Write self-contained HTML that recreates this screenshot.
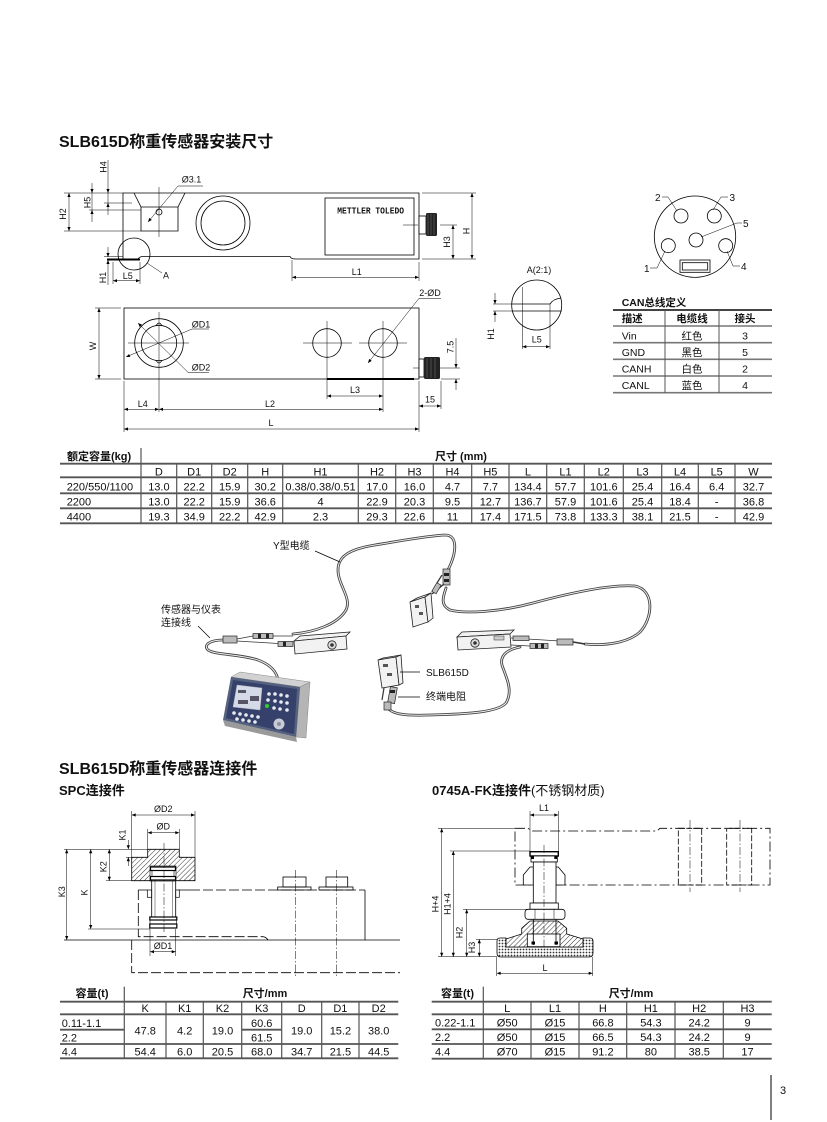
<!DOCTYPE html>
<html><head><meta charset="utf-8">
<style>
html,body{margin:0;padding:0;background:#fff;}
svg{display:block}
text{font-family:"Liberation Sans","Noto Sans CJK SC",sans-serif;fill:#111}
.d{font-size:9px}
.b{font-weight:bold}
.tb{font-size:11px}
.ln{stroke:#000;fill:none;stroke-width:0.8}
.th{stroke:#000;fill:none;stroke-width:0.5}
.cl{stroke:#000;fill:none;stroke-width:0.5;stroke-dasharray:8 2 1.5 2}
.hd{stroke:#000;fill:none;stroke-width:0.8;stroke-dasharray:10 3}
.tl{stroke:#555;stroke-width:1.8}
.tv{stroke:#555;stroke-width:1.2}
.cbo{stroke:#444;stroke-width:2.8;fill:none;stroke-linecap:round}
.cbi{stroke:#eee;stroke-width:1;fill:none;stroke-linecap:round}
.cell{fill:#f2f2f2;stroke:#222;stroke-width:0.8}
.plug{fill:#bbb;stroke:#222;stroke-width:0.7}
</style></head><body>
<svg width="827" height="1122" viewBox="0 0 827 1122" xmlns="http://www.w3.org/2000/svg">
<defs>
<marker id="ar" viewBox="0 0 10 10" refX="10" refY="5" markerUnits="userSpaceOnUse" markerWidth="5" markerHeight="4" orient="auto-start-reverse"><path d="M0,1 L10,5 L0,9z" fill="#000"/></marker>
<pattern id="hatch" width="3.5" height="3.5" patternUnits="userSpaceOnUse" patternTransform="rotate(45)"><rect width="3.5" height="3.5" fill="#fff"/><line x1="0" y1="0" x2="0" y2="3.5" stroke="#000" stroke-width="0.8"/></pattern>
<pattern id="dots" width="3" height="3" patternUnits="userSpaceOnUse"><rect width="3" height="3" fill="#fff"/><circle cx="1.5" cy="1.5" r="0.9" fill="#333"/></pattern>
</defs>
<rect width="827" height="1122" fill="#fff"/>

<!-- ===== Title 1 ===== -->
<text x="59" y="147" font-size="16" class="b">SLB615D称重传感器安装尺寸</text>

<!-- ===== Top view ===== -->
<g class="ln">
<path d="M123,193 H419 V259 H296 Q291,259 290,256.5 H142 Q139,257 138,259 H123 Z"/>
<path d="M134,193 L141,207 V231 H178 V207 L185,193"/>
<line x1="141" y1="207" x2="178" y2="207"/>
<circle cx="223" cy="223" r="27"/>
<circle cx="223" cy="223" r="22"/>
<rect x="325" y="198" width="89" height="57"/>
<circle cx="134" cy="254" r="16"/>
<circle cx="159" cy="212" r="3"/>
</g>
<line x1="107" y1="259.5" x2="140" y2="259.5" stroke="#000" stroke-width="2"/>
<text x="337.3" y="213.3" font-family="Liberation Mono" font-size="9" font-weight="bold" textLength="66.7" lengthAdjust="spacingAndGlyphs" style="font-family:'Liberation Mono',monospace">METTLER TOLEDO</text>
<line class="th" x1="159" y1="187" x2="159" y2="237"/>
<line class="th" x1="403" y1="225" x2="418" y2="225"/>
<rect x="419" y="216" width="7" height="18" fill="#fff" stroke="#000" stroke-width="0.8"/>
<rect x="426" y="213" width="11" height="23" rx="1.5" fill="#222"/>
<g stroke="#777" stroke-width="0.5"><line x1="428" y1="214" x2="428" y2="235"/><line x1="431" y1="214" x2="431" y2="235"/><line x1="434" y1="214" x2="434" y2="235"/></g>
<!-- leader Ø3.1 -->
<polyline class="th" points="148,222 178,186 203,186" marker-start="url(#ar)"/>
<text class="d" x="181.7" y="182.5">Ø3.1</text>
<!-- dims top view -->
<g class="th">
<line x1="64" y1="193" x2="123" y2="193"/>
<line x1="64" y1="231" x2="141" y2="231"/>
<line x1="69" y1="193" x2="69" y2="231" marker-start="url(#ar)" marker-end="url(#ar)"/>
<line x1="104" y1="203" x2="132" y2="203"/>
<line x1="89" y1="210" x2="141" y2="210"/>
<line x1="92" y1="183" x2="92" y2="193" marker-end="url(#ar)"/>
<line x1="92" y1="193" x2="92" y2="210"/>
<line x1="92" y1="222" x2="92" y2="210" marker-end="url(#ar)"/>
<line x1="108" y1="160" x2="108" y2="193" marker-end="url(#ar)"/>
<line x1="108" y1="193" x2="108" y2="203"/>
<line x1="108" y1="215" x2="108" y2="203" marker-end="url(#ar)"/>
<line x1="108" y1="247" x2="108" y2="257" marker-end="url(#ar)"/>
<line x1="108" y1="285" x2="108" y2="260" marker-end="url(#ar)"/>
<line x1="104" y1="256.5" x2="123" y2="256.5"/>
<line x1="113" y1="262" x2="113" y2="284"/>
<line x1="140" y1="262" x2="140" y2="284"/>
<line x1="113" y1="280.7" x2="140" y2="280.7" marker-start="url(#ar)" marker-end="url(#ar)"/>
<line x1="147" y1="263" x2="162" y2="273"/>
<line x1="422" y1="193" x2="476" y2="193"/>
<line x1="422" y1="259" x2="476" y2="259"/>
<line x1="472" y1="193" x2="472" y2="259" marker-start="url(#ar)" marker-end="url(#ar)"/>
<line x1="440" y1="225" x2="457" y2="225"/>
<line x1="453" y1="225" x2="453" y2="259" marker-start="url(#ar)" marker-end="url(#ar)"/>
<line x1="292" y1="260" x2="292" y2="281"/>
<line x1="419" y1="262" x2="419" y2="281"/>
<line x1="292" y1="277.3" x2="419" y2="277.3" marker-start="url(#ar)" marker-end="url(#ar)"/>
</g>
<g class="d" text-anchor="middle">
<text transform="translate(106.7,167) rotate(-90)">H4</text>
<text transform="translate(90.7,202.5) rotate(-90)">H5</text>
<text transform="translate(66,214) rotate(-90)">H2</text>
<text transform="translate(106,277.5) rotate(-90)">H1</text>
<text transform="translate(450,242) rotate(-90)">H3</text>
<text transform="translate(469.3,231) rotate(-90)">H</text>
<text x="127.7" y="279">L5</text>
<text x="166" y="278.7">A</text>
<text x="356.7" y="275">L1</text>
</g>

<!-- ===== Plan view ===== -->
<rect class="ln" x="124" y="308" width="295" height="71"/>
<line x1="327" y1="379" x2="414" y2="379" stroke="#000" stroke-width="2"/>
<g class="ln">
<circle cx="159" cy="343" r="24.3"/>
<circle cx="159" cy="343" r="17.7"/>
<path d="M156,326 Q159,320 162,326"/>
<path d="M156,360 Q159,366 162,360"/>
<circle cx="327" cy="343" r="14.3"/>
<circle cx="383" cy="343" r="14.3"/>
</g>
<g class="th">
<line x1="128" y1="343" x2="189" y2="343"/>
<line x1="159" y1="312" x2="159" y2="412"/>
<line x1="303" y1="343" x2="352" y2="343"/>
<line x1="359" y1="343" x2="407" y2="343"/>
<line x1="327" y1="321" x2="327" y2="399"/>
<line x1="383" y1="321" x2="383" y2="412"/>
<polyline points="126,357 192,329 209,329" marker-start="url(#ar)"/>
<polyline points="138,323 188,372.3 209,372.3" marker-start="url(#ar)"/>
<polyline points="368,363 419,298.3 441,298.3" marker-start="url(#ar)"/>
<line x1="95" y1="308" x2="121" y2="308"/>
<line x1="95" y1="379" x2="121" y2="379"/>
<line x1="99" y1="308" x2="99" y2="379" marker-start="url(#ar)" marker-end="url(#ar)"/>
<line x1="413" y1="368" x2="460" y2="368"/>
<line x1="441" y1="379" x2="460" y2="379"/>
<line x1="456" y1="338" x2="456" y2="368" marker-end="url(#ar)"/>
<line x1="456" y1="390" x2="456" y2="379" marker-end="url(#ar)"/>
<line x1="327" y1="396" x2="383" y2="396" marker-start="url(#ar)" marker-end="url(#ar)"/>
<line x1="441" y1="381" x2="441" y2="409"/>
<line x1="419" y1="406" x2="441" y2="406" marker-start="url(#ar)" marker-end="url(#ar)"/>
<line x1="124" y1="409.3" x2="159" y2="409.3" marker-start="url(#ar)" marker-end="url(#ar)"/>
<line x1="159" y1="409.3" x2="383" y2="409.3" marker-start="url(#ar)" marker-end="url(#ar)"/>
<line x1="124" y1="381" x2="124" y2="432"/>
<line x1="419" y1="381" x2="419" y2="432"/>
<line x1="124" y1="429" x2="419" y2="429" marker-start="url(#ar)" marker-end="url(#ar)"/>
</g>
<rect x="419" y="359" width="5" height="18" fill="#fff" stroke="#000" stroke-width="0.8"/>
<rect x="424" y="357" width="16" height="22" rx="1.5" fill="#222"/>
<g stroke="#777" stroke-width="0.5"><line x1="427" y1="358" x2="427" y2="378"/><line x1="431" y1="358" x2="431" y2="378"/><line x1="435" y1="358" x2="435" y2="378"/></g>
<g class="d">
<text x="191.7" y="327.5">ØD1</text>
<text x="191.7" y="370.7">ØD2</text>
<text x="419.3" y="296">2-ØD</text>
</g>
<g class="d" text-anchor="middle">
<text transform="translate(96,346) rotate(-90)">W</text>
<text transform="translate(453.3,347) rotate(-90)">7.5</text>
<text x="355" y="393">L3</text>
<text x="430" y="402.5">15</text>
<text x="142.8" y="407">L4</text>
<text x="270" y="407">L2</text>
<text x="271" y="426">L</text>
</g>

<!-- ===== Detail A(2:1) ===== -->
<circle class="ln" cx="536.7" cy="305" r="25"/>
<g class="ln">
<line x1="511.7" y1="304" x2="550" y2="304"/>
<line x1="511.7" y1="311" x2="561.7" y2="311"/>
<path d="M550,304 Q553,299 561,298"/>
</g>
<g class="th">
<line x1="522.3" y1="287" x2="522.3" y2="349"/>
<line x1="550" y1="304" x2="550" y2="349"/>
<line x1="493" y1="304" x2="511.7" y2="304"/>
<line x1="493" y1="311" x2="511.7" y2="311"/>
<line x1="495" y1="293" x2="495" y2="304" marker-end="url(#ar)"/>
<line x1="495" y1="322" x2="495" y2="311" marker-end="url(#ar)"/>
<line x1="522.3" y1="346.7" x2="550" y2="346.7" marker-start="url(#ar)" marker-end="url(#ar)"/>
</g>
<g class="d" text-anchor="middle">
<text x="539" y="273">A(2:1)</text>
<text transform="translate(494,334) rotate(-90)">H1</text>
<text x="536.7" y="342.5">L5</text>
</g>

<!-- ===== Connector face ===== -->
<g class="ln">
<circle cx="695" cy="236.7" r="40.7"/>
<circle cx="681" cy="216" r="7"/>
<circle cx="714.3" cy="216" r="7"/>
<circle cx="696" cy="240" r="7"/>
<circle cx="668.3" cy="245.7" r="7"/>
<circle cx="725.7" cy="245.7" r="7"/>
<rect x="680" y="260" width="30" height="12.3"/>
<rect x="682.3" y="262.7" width="25.4" height="7.3"/>
</g>
<g class="th" stroke-width="0.7">
<polyline points="662,197 668,197 677,211"/>
<polyline points="728,197 721,197 713,210"/>
<polyline points="742,223 737,223 701,237"/>
<polyline points="650,268 657,268 665,251"/>
<polyline points="740,266 733,266 727,251"/>
</g>
<g font-size="10">
<text x="655" y="201">2</text>
<text x="729.5" y="201">3</text>
<text x="743" y="227">5</text>
<text x="644" y="272">1</text>
<text x="741" y="270">4</text>
</g>

<!-- ===== CAN table ===== -->
<text x="621.7" y="306" font-size="10.5" class="b">CAN总线定义</text>
<line x1="613" y1="310" x2="772" y2="310" stroke="#444" stroke-width="2"/>
<g stroke="#777" stroke-width="1.6">
<line x1="613" y1="326" x2="772" y2="326"/>
<line x1="613" y1="342.7" x2="772" y2="342.7"/>
<line x1="613" y1="359.3" x2="772" y2="359.3"/>
<line x1="613" y1="376" x2="772" y2="376"/>
<line x1="613" y1="392.7" x2="772" y2="392.7"/>
</g>
<g stroke="#555" stroke-width="1">
<line x1="665" y1="310" x2="665" y2="392.7"/>
<line x1="719" y1="310" x2="719" y2="392.7"/>
</g>
<g font-size="10.5">
<text x="621.7" y="322" class="b">描述</text>
<text x="692" y="322" class="b" text-anchor="middle">电缆线</text>
<text x="745" y="322" class="b" text-anchor="middle">接头</text>
<text x="621.7" y="339.5">Vin</text><text x="692" y="339.5" text-anchor="middle">红色</text><text x="745" y="339.5" text-anchor="middle">3</text>
<text x="621.7" y="356">GND</text><text x="692" y="356" text-anchor="middle">黑色</text><text x="745" y="356" text-anchor="middle">5</text>
<text x="621.7" y="372.5">CANH</text><text x="692" y="372.5" text-anchor="middle">白色</text><text x="745" y="372.5" text-anchor="middle">2</text>
<text x="621.7" y="389">CANL</text><text x="692" y="389" text-anchor="middle">蓝色</text><text x="745" y="389" text-anchor="middle">4</text>
</g>

<!-- ===== Main table ===== -->
<text x="67" y="460" class="tb b">额定容量(kg)</text>
<text x="435" y="460" class="tb b">尺寸 (mm)</text>
<line class="tv" x1="141" y1="448" x2="141" y2="463.7"/>
<g class="tl">
<line x1="60" y1="463.7" x2="772" y2="463.7"/>
<line x1="60" y1="477.3" x2="772" y2="477.3"/>
<line x1="60" y1="493.3" x2="772" y2="493.3"/>
<line x1="60" y1="508.3" x2="772" y2="508.3"/>
<line x1="60" y1="523.3" x2="772" y2="523.3"/>
</g>
<g class="tv">
<line x1="141" y1="463.7" x2="141" y2="523.3"/>
<line x1="176.7" y1="463.7" x2="176.7" y2="523.3"/>
<line x1="211.7" y1="463.7" x2="211.7" y2="523.3"/>
<line x1="247.7" y1="463.7" x2="247.7" y2="523.3"/>
<line x1="282.7" y1="463.7" x2="282.7" y2="523.3"/>
<line x1="358.3" y1="463.7" x2="358.3" y2="523.3"/>
<line x1="395.7" y1="463.7" x2="395.7" y2="523.3"/>
<line x1="433.3" y1="463.7" x2="433.3" y2="523.3"/>
<line x1="471.7" y1="463.7" x2="471.7" y2="523.3"/>
<line x1="509" y1="463.7" x2="509" y2="523.3"/>
<line x1="546.7" y1="463.7" x2="546.7" y2="523.3"/>
<line x1="584.3" y1="463.7" x2="584.3" y2="523.3"/>
<line x1="623.3" y1="463.7" x2="623.3" y2="523.3"/>
<line x1="661.7" y1="463.7" x2="661.7" y2="523.3"/>
<line x1="698.3" y1="463.7" x2="698.3" y2="523.3"/>
<line x1="735" y1="463.7" x2="735" y2="523.3"/>
</g>
<g class="tb" text-anchor="middle">
<text y="475.5"><tspan x="158.9">D</tspan><tspan x="194.2">D1</tspan><tspan x="229.7">D2</tspan><tspan x="265.2">H</tspan><tspan x="320.5">H1</tspan><tspan x="377">H2</tspan><tspan x="414.5">H3</tspan><tspan x="452.5">H4</tspan><tspan x="490.4">H5</tspan><tspan x="527.9">L</tspan><tspan x="565.5">L1</tspan><tspan x="603.8">L2</tspan><tspan x="642.5">L3</tspan><tspan x="680">L4</tspan><tspan x="716.7">L5</tspan><tspan x="753.5">W</tspan></text>
<text y="490.5"><tspan x="158.9">13.0</tspan><tspan x="194.2">22.2</tspan><tspan x="229.7">15.9</tspan><tspan x="265.2">30.2</tspan><tspan x="320.5">0.38/0.38/0.51</tspan><tspan x="377">17.0</tspan><tspan x="414.5">16.0</tspan><tspan x="452.5">4.7</tspan><tspan x="490.4">7.7</tspan><tspan x="527.9">134.4</tspan><tspan x="565.5">57.7</tspan><tspan x="603.8">101.6</tspan><tspan x="642.5">25.4</tspan><tspan x="680">16.4</tspan><tspan x="716.7">6.4</tspan><tspan x="753.5">32.7</tspan></text>
<text y="505.5"><tspan x="158.9">13.0</tspan><tspan x="194.2">22.2</tspan><tspan x="229.7">15.9</tspan><tspan x="265.2">36.6</tspan><tspan x="320.5">4</tspan><tspan x="377">22.9</tspan><tspan x="414.5">20.3</tspan><tspan x="452.5">9.5</tspan><tspan x="490.4">12.7</tspan><tspan x="527.9">136.7</tspan><tspan x="565.5">57.9</tspan><tspan x="603.8">101.6</tspan><tspan x="642.5">25.4</tspan><tspan x="680">18.4</tspan><tspan x="716.7">-</tspan><tspan x="753.5">36.8</tspan></text>
<text y="520.5"><tspan x="158.9">19.3</tspan><tspan x="194.2">34.9</tspan><tspan x="229.7">22.2</tspan><tspan x="265.2">42.9</tspan><tspan x="320.5">2.3</tspan><tspan x="377">29.3</tspan><tspan x="414.5">22.6</tspan><tspan x="452.5">11</tspan><tspan x="490.4">17.4</tspan><tspan x="527.9">171.5</tspan><tspan x="565.5">73.8</tspan><tspan x="603.8">133.3</tspan><tspan x="642.5">38.1</tspan><tspan x="680">21.5</tspan><tspan x="716.7">-</tspan><tspan x="753.5">42.9</tspan></text>
</g>
<g class="tb">
<text x="66.7" y="490.5">220/550/1100</text>
<text x="66.7" y="505.5">2200</text>
<text x="66.7" y="520.5">4400</text>
</g>

<!-- ===== Wiring photo ===== -->
<!-- cables -->
<g>
<path class="cbo" d="M293,634 C315,632 338,624 346,610 C352,598 338,585 338,570 C338,556 350,549 375,545 C400,541 425,536 445,535 C458,535 457,552 448,570"/>
<path class="cbi" d="M293,634 C315,632 338,624 346,610 C352,598 338,585 338,570 C338,556 350,549 375,545 C400,541 425,536 445,535 C458,535 457,552 448,570"/>
<path class="cbo" d="M446,588 C443,597 440,605 450,610 C465,614 500,612 533,603 C570,593 610,584 635,586 C655,590 653,618 640,632 C628,643 605,646 585,644"/>
<path class="cbi" d="M446,588 C443,597 440,605 450,610 C465,614 500,612 533,603 C570,593 610,584 635,586 C655,590 653,618 640,632 C628,643 605,646 585,644"/>
<path class="cbo" d="M223,640 C210,640 203,645 208,650 C215,655 240,654 258,660 C274,666 279,675 279,688"/>
<path class="cbi" d="M223,640 C210,640 203,645 208,650 C215,655 240,654 258,660 C274,666 279,675 279,688"/>
<path class="cbo" d="M520,647 C505,650 500,657 502,665 C505,675 514,690 506,703 C498,712 470,714 430,715 C405,716 392,714 388,708"/>
<path class="cbi" d="M520,647 C505,650 500,657 502,665 C505,675 514,690 506,703 C498,712 470,714 430,715 C405,716 392,714 388,708"/>
</g>
<!-- left connectors -->
<g stroke="#333" stroke-width="0.8">
<line x1="237" y1="639" x2="253" y2="636"/>
<line x1="237" y1="641" x2="278" y2="643.5"/>
<line x1="273" y1="636" x2="293" y2="636"/>
</g>
<rect x="223" y="636" width="14" height="7" class="plug" fill="#ddd"/>
<rect x="253" y="633.5" width="20" height="5" class="plug"/>
<rect x="258" y="633.5" width="3" height="5" fill="#222"/>
<rect x="266" y="633.5" width="3" height="5" fill="#222"/>
<rect x="278" y="641.5" width="15" height="5" class="plug"/>
<rect x="283" y="641.5" width="3" height="5" fill="#222"/>
<!-- left load cell -->
<polygon class="cell" points="294,641 300,636 350,632 346,636"/>
<polygon class="cell" points="294,641 346,636 347,649 295,654" fill="#fafafa"/>
<circle cx="332" cy="645" r="4.2" fill="#ddd" stroke="#222" stroke-width="0.8"/>
<circle cx="332" cy="645" r="1.8" fill="#333"/>
<!-- Y junction and small cell -->
<rect x="443" y="569" width="7" height="16" class="plug" fill="#999"/>
<rect x="444" y="573" width="5" height="3" fill="#222"/>
<rect x="444" y="579" width="5" height="3" fill="#222"/>
<line x1="444" y1="584" x2="432" y2="594" stroke="#333" stroke-width="1.2"/>
<line x1="442" y1="575" x2="437" y2="583" stroke="#333" stroke-width="1.2"/>
<rect x="434" y="583" width="5" height="10" class="plug" transform="rotate(30 436 588)"/>
<polygon class="cell" points="410,602 425,597 431,593 417,598"/>
<polygon class="cell" points="410,602 425,597 428,622 413,627" fill="#fafafa"/>
<polygon class="cell" points="425,597 431,593 433,618 428,622" fill="#ddd"/>
<rect x="415" y="605" width="4" height="3" fill="#555"/>
<rect x="419" y="612" width="4" height="3" fill="#555"/>
<!-- right load cell -->
<polygon class="cell" points="457,637 462,632 514,630 510,634"/>
<polygon class="cell" points="457,637 510,634 511,647 458,650" fill="#fafafa"/>
<circle cx="475" cy="643" r="4.2" fill="#ddd" stroke="#222" stroke-width="0.8"/>
<circle cx="475" cy="643" r="1.8" fill="#333"/>
<rect x="494" y="636" width="10" height="4" fill="#ccc" stroke="#333" stroke-width="0.5"/>
<g stroke="#333" stroke-width="0.8">
<line x1="511" y1="638" x2="560" y2="641"/>
<line x1="511" y1="645" x2="530" y2="646"/>
</g>
<rect x="513" y="636" width="16" height="4.5" class="plug"/>
<rect x="530" y="643.5" width="18" height="5" class="plug"/>
<rect x="535" y="643.5" width="3" height="5" fill="#222"/>
<rect x="541" y="643.5" width="3" height="5" fill="#222"/>
<rect x="557" y="639" width="16" height="6" class="plug" fill="#ddd"/>
<line x1="573" y1="642" x2="585" y2="644" stroke="#333" stroke-width="1.5"/>
<!-- SLB615D cell + terminator -->
<polygon class="cell" points="378,660 396,657 401,655 383,658"/>
<polygon class="cell" points="378,660 396,657 399,685 382,688" fill="#fafafa"/>
<polygon class="cell" points="396,657 401,655 403,683 399,685" fill="#ddd"/>
<rect x="383" y="664" width="5" height="3" fill="#555"/>
<rect x="387" y="673" width="5" height="3" fill="#555"/>
<rect x="389" y="687" width="7" height="16" class="plug" transform="rotate(10 392 695)"/>
<rect x="390" y="690" width="5" height="3" fill="#222"/>
<rect x="384" y="702" width="7" height="8" class="plug" fill="#ddd"/>
<line x1="384" y1="688" x2="382" y2="700" stroke="#333" stroke-width="1.2"/>
<!-- indicator -->
<polygon points="231,677 240,672 310,682 300,687" fill="#d2d2d2" stroke="#888" stroke-width="0.5"/>
<polygon points="300,687 310,682 306,738 296,737" fill="#b5b5b5" stroke="#888" stroke-width="0.5"/>
<polygon points="223,720 296,737 297,742 225,726" fill="#9a9a9a"/>
<polygon points="231,677 300,687 296,737 223,720" fill="#55617f"/>
<polygon points="233,680 297,689 294,734 226,718" fill="#35416a"/>
<polygon points="237,685 262,688 260,710 233,707" fill="#d5dbe6" stroke="#aab" stroke-width="0.5"/>
<g fill="#556">
<rect x="238" y="690" width="8" height="3"/>
<rect x="250" y="696" width="9" height="5"/>
<rect x="238" y="700" width="10" height="4"/>
</g>
<g fill="#e8ecf2">
<circle cx="269" cy="694" r="1.8"/><circle cx="275" cy="694" r="1.8"/><circle cx="281" cy="695" r="1.8"/><circle cx="287" cy="696" r="1.8"/>
<circle cx="268" cy="700" r="1.8"/><circle cx="275" cy="701" r="1.8"/><circle cx="281" cy="702" r="1.8"/><circle cx="287" cy="703" r="1.8"/>
<circle cx="274" cy="708" r="1.8"/><circle cx="280" cy="709" r="1.8"/><circle cx="287" cy="710" r="1.8"/>
<circle cx="234" cy="713" r="1.8"/><circle cx="240" cy="714" r="1.8"/><circle cx="246" cy="715" r="1.8"/><circle cx="252" cy="716" r="1.8"/><circle cx="258" cy="717" r="1.8"/>
<circle cx="237" cy="719" r="1.8"/><circle cx="243" cy="720" r="1.8"/><circle cx="249" cy="721" r="1.8"/><circle cx="255" cy="722" r="1.8"/>
</g>
<circle cx="267" cy="706" r="2" fill="#3c3"/>
<circle cx="279" cy="724" r="5.5" fill="#c8ccd6"/>
<circle cx="279" cy="724" r="2" fill="#8a90a0"/>
<!-- photo labels -->
<g font-size="10">
<text x="273" y="549">Y型电缆</text>
<text x="161" y="613">传感器与仪表</text>
<text x="161" y="626">连接线</text>
<text x="426" y="676">SLB615D</text>
<text x="426" y="700">终端电阻</text>
</g>
<g stroke="#000" stroke-width="0.7">
<line x1="315" y1="551" x2="340" y2="562"/>
<line x1="198" y1="626" x2="210" y2="638"/>
<line x1="400" y1="672" x2="420" y2="672"/>
<line x1="398" y1="697" x2="420" y2="697"/>
</g>

<!-- ===== Title 2 ===== -->
<text x="59" y="774" font-size="16" class="b">SLB615D称重传感器连接件</text>
<text x="59" y="795" font-size="13" class="b">SPC连接件</text>
<text x="432" y="795" font-size="13"><tspan font-weight="bold">0745A-FK连接件</tspan>(不锈钢材质)</text>

<!-- ===== SPC drawing ===== -->
<path d="M147.7,849.3 H179.3 V857.3 H195 V880.7 H131.7 V857.3 H147.7 Z" fill="url(#hatch)" stroke="#000" stroke-width="0.8"/>
<rect x="150" y="866" width="26" height="15" fill="#fff" stroke="#000" stroke-width="0.6"/>
<g fill="none" stroke="#000">
<rect x="150.5" y="867" width="25" height="3.5" stroke-width="1.2"/>
<rect x="150.5" y="876.5" width="25" height="3.5" stroke-width="1.2"/>
<line x1="152" y1="870.5" x2="152" y2="876.5" stroke-width="0.6"/>
<line x1="174" y1="870.5" x2="174" y2="876.5" stroke-width="0.6"/>
<path d="M151.7,880 V917 M175.7,880 V917" stroke-width="0.8"/>
<path d="M155,880 V917 M172.3,880 V917" stroke-width="0.4"/>
<rect x="147.3" y="890" width="4.4" height="7.3" stroke-width="0.7"/>
<rect x="175.7" y="890" width="3.6" height="7.3" stroke-width="0.7"/>
<rect x="149.8" y="917" width="27" height="3" stroke-width="1.2"/>
<rect x="149.8" y="924" width="27" height="4" stroke-width="1.2"/>
<line x1="150" y1="920" x2="150" y2="924" stroke-width="0.6"/>
<line x1="176.5" y1="920" x2="176.5" y2="924" stroke-width="0.6"/>
</g>
<line class="cl" x1="164" y1="843" x2="164" y2="933"/>
<!-- load cell hidden -->
<path class="ln" d="M138.3,890 H147.3 M178.3,890 H190"/>
<path class="hd" d="M190,890 H365"/>
<path class="ln" d="M365,890 V940"/>
<path class="hd" d="M138.3,890 V936.7 H263 Q266,937 268,940"/>
<line class="ln" x1="64" y1="940" x2="400" y2="940"/>
<path class="hd" d="M131.7,940 V972.7 H400"/>
<!-- bolt heads -->
<g class="ln" fill="#fff">
<rect x="283" y="877" width="23" height="10"/>
<rect x="277.7" y="887" width="33.3" height="3"/>
<rect x="326" y="877" width="21.7" height="10"/>
<rect x="319" y="887" width="34" height="3"/>
</g>
<line class="cl" x1="295.7" y1="870" x2="295.7" y2="977"/>
<line class="cl" x1="336.7" y1="870" x2="336.7" y2="977"/>
<!-- SPC dims -->
<g class="th">
<line x1="131.7" y1="811" x2="131.7" y2="857"/>
<line x1="195" y1="811" x2="195" y2="857"/>
<line x1="131.7" y1="815" x2="195" y2="815" marker-start="url(#ar)" marker-end="url(#ar)"/>
<line x1="147.7" y1="829" x2="147.7" y2="849"/>
<line x1="179.3" y1="829" x2="179.3" y2="849"/>
<line x1="147.7" y1="832.7" x2="179.3" y2="832.7" marker-start="url(#ar)" marker-end="url(#ar)"/>
<line x1="64" y1="849.3" x2="147.7" y2="849.3"/>
<line x1="106" y1="880.7" x2="131.7" y2="880.7"/>
<line x1="88" y1="929" x2="150" y2="929"/>
<line x1="126" y1="857.3" x2="131.7" y2="857.3"/>
<line x1="128.3" y1="840" x2="128.3" y2="849.3" marker-end="url(#ar)"/>
<line x1="128.3" y1="866" x2="128.3" y2="857.3" marker-end="url(#ar)"/>
<line x1="109.3" y1="849.3" x2="109.3" y2="880.7" marker-start="url(#ar)" marker-end="url(#ar)"/>
<line x1="90.7" y1="849.3" x2="90.7" y2="929" marker-start="url(#ar)" marker-end="url(#ar)"/>
<line x1="66.7" y1="849.3" x2="66.7" y2="940" marker-start="url(#ar)" marker-end="url(#ar)"/>
<line x1="150" y1="929" x2="150" y2="956"/>
<line x1="175.7" y1="929" x2="175.7" y2="956"/>
<line x1="150" y1="951.7" x2="175.7" y2="951.7" marker-start="url(#ar)" marker-end="url(#ar)"/>
</g>
<g class="d" text-anchor="middle">
<text x="163.3" y="812">ØD2</text>
<text x="163.3" y="829.5">ØD</text>
<text x="163" y="949">ØD1</text>
<text transform="translate(125.7,835) rotate(-90)">K1</text>
<text transform="translate(106.7,866.7) rotate(-90)">K2</text>
<text transform="translate(87.3,892.5) rotate(-90)">K</text>
<text transform="translate(65,891.7) rotate(-90)">K3</text>
</g>

<!-- ===== 0745A drawing ===== -->
<path d="M515,828.3 H528 L532,831 H657 L660,828.3 H770 V885 H515 Z" fill="none" stroke="#000" stroke-width="0.8" stroke-dasharray="10 3 2 3"/>
<g fill="none" stroke="#000" stroke-width="0.8" stroke-dasharray="6 2">
<rect x="678.3" y="828.3" width="23.4" height="56.7"/>
<rect x="726.7" y="828.3" width="25" height="56.7"/>
</g>
<line class="cl" x1="690" y1="820" x2="690" y2="892"/>
<line class="cl" x1="740" y1="820" x2="740" y2="892"/>
<!-- bolt parts -->
<g fill="#fff" stroke="#000" stroke-width="0.8">
<rect x="530" y="851.7" width="28.3" height="4.3" stroke-width="1.4"/>
<rect x="531" y="856" width="26.3" height="6"/>
<polygon points="523.3,875 530,867 533.3,867 533.3,885 523.3,885"/>
<polygon points="565,875 558.3,867 556,867 556,885 565,885"/>
<rect x="533.3" y="862" width="22.7" height="41"/>
<rect x="530" y="903" width="28.3" height="6.3"/>
<rect x="525" y="909.3" width="40" height="10" rx="3"/>
</g>
<g fill="#000">
<rect x="531" y="856" width="3" height="3"/><rect x="554.3" y="856" width="3" height="3"/>
</g>
<line class="th" x1="535" y1="909.3" x2="535" y2="919.3"/>
<line class="th" x1="554" y1="909.3" x2="554" y2="919.3"/>
<!-- foot -->
<path d="M497,941 Q497,938 500,938 H506 V947 H583 V938 H590 Q593,938 593,941 V953 Q593,957 589,957 H501 Q497,957 497,953 Z" fill="url(#dots)" stroke="#000" stroke-width="0.8"/>
<polygon points="530,921 558,921 566.7,928.3 566.7,934 583,939 583,947 506,947 506,939 521.7,934 521.7,928.3" fill="url(#hatch)" stroke="#000" stroke-width="0.8"/>
<rect x="527.3" y="934" width="32.7" height="12.7" fill="#fff" stroke="#000" stroke-width="0.8"/>
<path class="ln" d="M533.3,919.3 V945 M556,919.3 V945"/>
<rect x="531.5" y="941.5" width="3.5" height="3" fill="#000"/>
<rect x="554.5" y="941.5" width="3.5" height="3" fill="#000"/>
<line class="cl" x1="544" y1="845" x2="544" y2="950"/>
<!-- 0745A dims -->
<g class="th">
<line x1="530" y1="811" x2="530" y2="851"/>
<line x1="558.3" y1="811" x2="558.3" y2="851"/>
<line x1="530" y1="815" x2="558.3" y2="815" marker-start="url(#ar)" marker-end="url(#ar)"/>
<line x1="438" y1="828.3" x2="515" y2="828.3"/>
<line x1="438" y1="956.7" x2="497" y2="956.7"/>
<line x1="441.7" y1="828.3" x2="441.7" y2="956.7" marker-start="url(#ar)" marker-end="url(#ar)"/>
<line x1="450" y1="851" x2="530" y2="851"/>
<line x1="453.3" y1="851" x2="453.3" y2="956.7" marker-start="url(#ar)" marker-end="url(#ar)"/>
<line x1="463" y1="909.3" x2="530" y2="909.3"/>
<line x1="466.7" y1="909.3" x2="466.7" y2="956.7" marker-start="url(#ar)" marker-end="url(#ar)"/>
<line x1="476" y1="939.3" x2="497" y2="939.3"/>
<line x1="479.3" y1="939.3" x2="479.3" y2="956.7" marker-start="url(#ar)" marker-end="url(#ar)"/>
<line x1="496.7" y1="957" x2="496.7" y2="976"/>
<line x1="592.7" y1="957" x2="592.7" y2="976"/>
<line x1="496.7" y1="973.3" x2="592.7" y2="973.3" marker-start="url(#ar)" marker-end="url(#ar)"/>
</g>
<g class="d" text-anchor="middle">
<text x="544" y="811">L1</text>
<text x="545" y="971">L</text>
<text transform="translate(438.5,904) rotate(-90)">H+4</text>
<text transform="translate(450.7,904) rotate(-90)">H1+4</text>
<text transform="translate(462.7,932.5) rotate(-90)">H2</text>
<text transform="translate(475,947.5) rotate(-90)">H3</text>
</g>

<!-- ===== SPC table ===== -->
<text x="92" y="997" class="tb b" text-anchor="middle">容量(t)</text>
<text x="265" y="997" class="tb b" text-anchor="middle">尺寸/mm</text>
<line class="tv" x1="124.3" y1="986.7" x2="124.3" y2="1058.3"/>
<g class="tl">
<line x1="60" y1="1001.7" x2="398.3" y2="1001.7"/>
<line x1="60" y1="1014.3" x2="398.3" y2="1014.3"/>
<line x1="60" y1="1029.7" x2="124.3" y2="1029.7"/>
<line x1="241.7" y1="1029.7" x2="281.7" y2="1029.7"/>
<line x1="60" y1="1044" x2="398.3" y2="1044"/>
<line x1="60" y1="1058.3" x2="398.3" y2="1058.3"/>
</g>
<g class="tv">
<line x1="166" y1="1001.7" x2="166" y2="1058.3"/>
<line x1="203.3" y1="1001.7" x2="203.3" y2="1058.3"/>
<line x1="241.7" y1="1001.7" x2="241.7" y2="1058.3"/>
<line x1="281.7" y1="1001.7" x2="281.7" y2="1058.3"/>
<line x1="321.7" y1="1001.7" x2="321.7" y2="1058.3"/>
<line x1="359" y1="1001.7" x2="359" y2="1058.3"/>
</g>
<g class="tb" text-anchor="middle">
<text y="1012"><tspan x="145.2">K</tspan><tspan x="184.7">K1</tspan><tspan x="222.5">K2</tspan><tspan x="261.7">K3</tspan><tspan x="301.7">D</tspan><tspan x="340.4">D1</tspan><tspan x="378.7">D2</tspan></text>
<text y="1034.5"><tspan x="145.2">47.8</tspan><tspan x="184.7">4.2</tspan><tspan x="222.5">19.0</tspan><tspan x="301.7">19.0</tspan><tspan x="340.4">15.2</tspan><tspan x="378.7">38.0</tspan></text>
<text y="1027"><tspan x="261.7">60.6</tspan></text>
<text y="1041.5"><tspan x="261.7">61.5</tspan></text>
<text y="1055.5"><tspan x="145.2">54.4</tspan><tspan x="184.7">6.0</tspan><tspan x="222.5">20.5</tspan><tspan x="261.7">68.0</tspan><tspan x="301.7">34.7</tspan><tspan x="340.4">21.5</tspan><tspan x="378.7">44.5</tspan></text>
</g>
<g class="tb">
<text x="61.7" y="1027">0.11-1.1</text>
<text x="61.7" y="1041.5">2.2</text>
<text x="61.7" y="1055.5">4.4</text>
</g>

<!-- ===== 0745A table ===== -->
<text x="457.5" y="997" class="tb b" text-anchor="middle">容量(t)</text>
<text x="631" y="997" class="tb b" text-anchor="middle">尺寸/mm</text>
<line class="tv" x1="483.3" y1="986.7" x2="483.3" y2="1058.7"/>
<g class="tl">
<line x1="431.7" y1="1001.7" x2="771.7" y2="1001.7"/>
<line x1="431.7" y1="1014.3" x2="771.7" y2="1014.3"/>
<line x1="431.7" y1="1029.3" x2="771.7" y2="1029.3"/>
<line x1="431.7" y1="1044" x2="771.7" y2="1044"/>
<line x1="431.7" y1="1058.7" x2="771.7" y2="1058.7"/>
</g>
<g class="tv">
<line x1="531" y1="1001.7" x2="531" y2="1058.7"/>
<line x1="579" y1="1001.7" x2="579" y2="1058.7"/>
<line x1="626.7" y1="1001.7" x2="626.7" y2="1058.7"/>
<line x1="675" y1="1001.7" x2="675" y2="1058.7"/>
<line x1="723.3" y1="1001.7" x2="723.3" y2="1058.7"/>
</g>
<g class="tb" text-anchor="middle">
<text y="1012"><tspan x="507.2">L</tspan><tspan x="555">L1</tspan><tspan x="602.9">H</tspan><tspan x="650.9">H1</tspan><tspan x="699.2">H2</tspan><tspan x="747.5">H3</tspan></text>
<text y="1026.5"><tspan x="507.2">Ø50</tspan><tspan x="555">Ø15</tspan><tspan x="602.9">66.8</tspan><tspan x="650.9">54.3</tspan><tspan x="699.2">24.2</tspan><tspan x="747.5">9</tspan></text>
<text y="1041"><tspan x="507.2">Ø50</tspan><tspan x="555">Ø15</tspan><tspan x="602.9">66.5</tspan><tspan x="650.9">54.3</tspan><tspan x="699.2">24.2</tspan><tspan x="747.5">9</tspan></text>
<text y="1055.5"><tspan x="507.2">Ø70</tspan><tspan x="555">Ø15</tspan><tspan x="602.9">91.2</tspan><tspan x="650.9">80</tspan><tspan x="699.2">38.5</tspan><tspan x="747.5">17</tspan></text>
</g>
<g class="tb">
<text x="435" y="1026.5">0.22-1.1</text>
<text x="435" y="1041">2.2</text>
<text x="435" y="1055.5">4.4</text>
</g>

<!-- page number -->
<line x1="771" y1="1075" x2="771" y2="1120" stroke="#000" stroke-width="1"/>
<text x="780" y="1094" font-size="11">3</text>
</svg>
</body></html>
